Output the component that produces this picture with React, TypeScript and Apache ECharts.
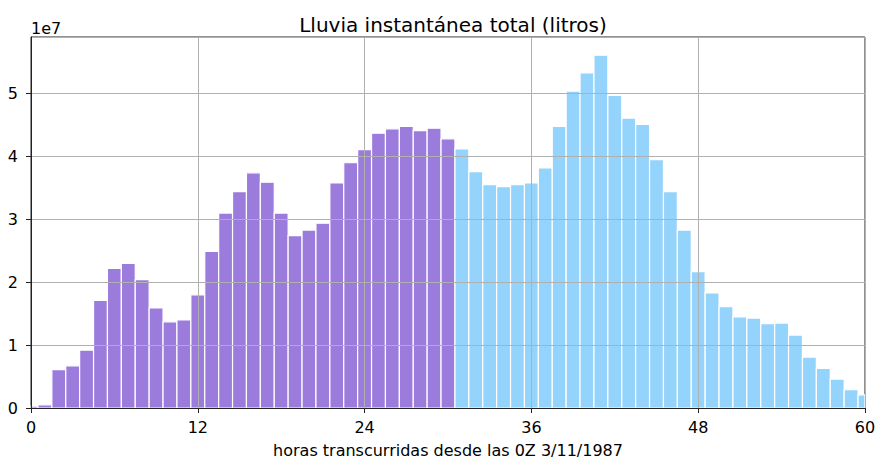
import React, { useEffect, useRef } from "react";
import * as echarts from "echarts";

// Hours since 0Z 3/11/1987 (bar centres)
const hours: number[] = Array.from({ length: 61 }, (_, i) => i);
// Total instantaneous rain, in units of 1e7 litres
const rainE7: number[] = [
  0.03, 0.05, 0.61, 0.67, 0.92, 1.71, 2.22, 2.3, 2.04, 1.59,
  1.37, 1.4, 1.8, 2.49, 3.1, 3.44, 3.74, 3.59, 3.1, 2.74,
  2.83, 2.94, 3.58, 3.9, 4.11, 4.37, 4.44, 4.48, 4.41, 4.45,
  4.28, 4.12, 3.76, 3.55, 3.52, 3.55, 3.58, 3.82, 4.48, 5.04,
  5.33, 5.61, 4.97, 4.61, 4.51, 3.95, 3.44, 2.83, 2.17, 1.83,
  1.61, 1.45, 1.43, 1.34, 1.35, 1.16, 0.81, 0.63, 0.46, 0.29,
  0.21,
];
const lastPurpleHour = 30;
const xTicks: number[] = [0, 12, 24, 36, 48, 60];
const yTicks: number[] = [0, 1, 2, 3, 4, 5];

const titleText = "Lluvia instantánea total (litros)";
const xLabel = "horas transcurridas desde las 0Z 3/11/1987";
const offsetLabel = "1e7";

const PURPLE = "#9b7bdc";
const BLUE = "#94d3fb";
const FONT = "DejaVu Sans";

function makeRender(color: string) {
  return (params: any, api: any) => {
    const h = api.value(0);
    const v = api.value(1);
    const p0 = api.coord([h - 0.5, v]);
    const p1 = api.coord([h + 0.5, 0]);
    const cs = params.coordSys;
    const rect = echarts.graphic.clipRectByRect(
      { x: p0[0], y: p0[1], width: p1[0] - p0[0], height: p1[1] - p0[1] },
      { x: cs.x, y: cs.y, width: cs.width, height: cs.height }
    );
    if (!rect) return null;
    return {
      type: "rect",
      shape: rect,
      style: { fill: color, stroke: "#ffffff", lineWidth: 1.2 },
    };
  };
}

export default function App() {
  const ref = useRef<HTMLDivElement>(null);
  useEffect(() => {
    if (!ref.current) return;
    const chart = echarts.init(ref.current, null, { renderer: "svg" });
    const purpleData = hours
      .filter((h) => h <= lastPurpleHour)
      .map((h) => [h, rainE7[h]]);
    const blueData = hours
      .filter((h) => h > lastPurpleHour)
      .map((h) => [h, rainE7[h]]);
    chart.setOption({
      animation: false,
      backgroundColor: "#ffffff",
      textStyle: { fontFamily: FONT },
      title: {
        text: titleText,
        left: 448,
        textAlign: "center",
        top: 10,
        textStyle: { fontFamily: FONT, fontSize: 20, fontWeight: "normal", color: "#000" },
      },
      graphic: [
        {
          type: "text",
          left: 31,
          top: 20,
          style: { text: offsetLabel, fontFamily: FONT, fontSize: 16, fill: "#000" },
        },
      ],
      grid: {
        left: 31,
        right: 12,
        top: 37,
        bottom: 51,
        show: true,
        borderColor: "#222",
        borderWidth: 1,
        backgroundColor: "#fff",
        containLabel: false,
        outerBoundsMode: "none",
      },
      xAxis: {
        type: "value",
        min: xTicks[0],
        max: xTicks[xTicks.length - 1],
        interval: 12,
        z: 10,
        name: xLabel,
        nameLocation: "middle",
        nameGap: 34,
        nameTextStyle: { fontFamily: FONT, fontSize: 16, color: "#000" },
        axisLine: { show: true, lineStyle: { color: "#222", width: 1 } },
        axisTick: { show: true, inside: false, length: 5, lineStyle: { color: "#222" } },
        axisLabel: { margin: 11, fontFamily: FONT, fontSize: 16, color: "#000" },
        splitLine: { show: true, lineStyle: { color: "#b0b0b0", width: 1 } },
      },
      yAxis: {
        type: "value",
        min: yTicks[0],
        max: 5.9,
        interval: 1,
        z: 10,
        axisLine: { show: true, lineStyle: { color: "#222", width: 1 } },
        axisTick: { show: true, inside: false, length: 5, lineStyle: { color: "#222" } },
        axisLabel: {
          margin: 13,
          fontFamily: FONT,
          fontSize: 16,
          color: "#000",
          showMaxLabel: false,
          formatter: (v: number) => (yTicks.includes(v) ? String(v) : ""),
        },
        splitLine: { show: true, lineStyle: { color: "#b0b0b0", width: 1 } },
      },
      series: [
        {
          type: "custom",
          name: "0-30 h",
          renderItem: makeRender(PURPLE),
          data: purpleData,
          encode: { x: 0, y: 1 },
          z: 2,
        },
        {
          type: "custom",
          name: "31-60 h",
          renderItem: makeRender(BLUE),
          data: blueData,
          encode: { x: 0, y: 1 },
          z: 2,
        },
      ],
    });
    return () => chart.dispose();
  }, []);
  return (
    <div
      ref={ref}
      style={{ position: "fixed", left: 0, top: 0, width: 877, height: 459 }}
    />
  );
}
